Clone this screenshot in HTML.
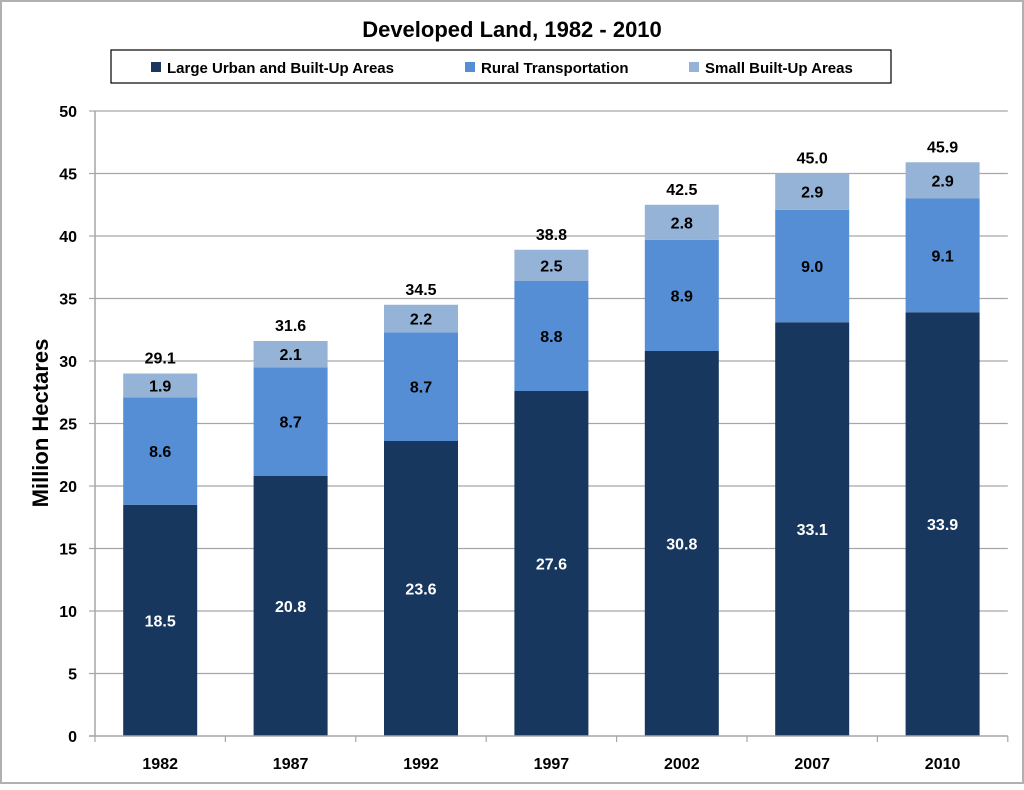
<!DOCTYPE html>
<html><head><meta charset="utf-8"><style>
html,body{margin:0;padding:0;background:#fff}
body{width:1024px;height:785px;overflow:hidden;font-family:"Liberation Sans",sans-serif}
svg text{font-family:"Liberation Sans",sans-serif;font-weight:bold}
</style></head><body>
<svg id="chart" width="1024" height="785" xmlns="http://www.w3.org/2000/svg">
<rect x="1" y="1" width="1022" height="782" fill="#fff" stroke="#b0b0b0" stroke-width="2"/>
<text x="512" y="37" text-anchor="middle" font-size="22" fill="#000">Developed Land, 1982 - 2010</text>
<g>
<rect x="111" y="50" width="780" height="33" fill="#fff" stroke="#000" stroke-width="1.2"/>
<g><rect x="151" y="62" width="10" height="10" fill="#17375e"/><text x="167" y="73" font-size="15">Large Urban and Built-Up Areas</text></g>
<g><rect x="465" y="62" width="10" height="10" fill="#558ed5"/><text x="481" y="73" font-size="15">Rural Transportation</text></g>
<g><rect x="689" y="62" width="10" height="10" fill="#95b3d7"/><text x="705" y="73" font-size="15">Small  Built-Up Areas</text></g>
</g>
<text transform="translate(48,423) rotate(-90)" text-anchor="middle" font-size="22">Million Hectares</text>
<g id="grid"></g><g id="bars"></g><g id="axes"></g>
</svg>
<script>
const categories=["1982","1987","1992","1997","2002","2007","2010"];
const largeUrban=[18.5,20.8,23.6,27.6,30.8,33.1,33.9];
const ruralTransport=[8.6,8.7,8.7,8.8,8.9,9.0,9.1];
const smallBuiltUp=[1.9,2.1,2.2,2.5,2.8,2.9,2.9];
const totals=["29.1","31.6","34.5","38.8","42.5","45.0","45.9"];
const yTicks=[0,5,10,15,20,25,30,35,40,45,50];
const NS="http://www.w3.org/2000/svg";
const x0=95,band=130.4,y0=736,ppu=12.5,bw=74;
const y=v=>y0-v*ppu;
const xc=i=>x0+band*(i+0.5);
function mk(tag,attrs,parent){const e=document.createElementNS(NS,tag);for(const k in attrs)e.setAttribute(k,attrs[k]);parent.appendChild(e);return e;}
const grid=document.getElementById('grid'),bars=document.getElementById('bars'),axes=document.getElementById('axes');
const xEnd=x0+band*categories.length;
yTicks.forEach(t=>{
 if(t>0){const g=mk('line',{x1:x0,x2:xEnd,y1:y(t),y2:y(t),stroke:'#a6a6a6','stroke-width':1.2},grid);
 
 }
 const tk=mk('line',{x1:x0-6,x2:x0,y1:y(t),y2:y(t),stroke:'#a6a6a6','stroke-width':1.2},axes);
 
 
 const l=mk('text',{x:77,y:y(t)+6,'text-anchor':'end','font-size':16},axes);l.textContent=t;
 
 
});
const ax=mk('line',{x1:x0,x2:x0,y1:y(50),y2:y0,stroke:'#a6a6a6','stroke-width':1.5},axes);


const bx=mk('line',{x1:x0-6,x2:xEnd,y1:y0,y2:y0,stroke:'#a6a6a6','stroke-width':1.5},axes);


for(let i=0;i<=categories.length;i++){const t=mk('line',{x1:x0+band*i,x2:x0+band*i,y1:y0,y2:y0+6,stroke:'#a6a6a6','stroke-width':1.2},axes);
 
 }
const series=[[largeUrban,'#17375e','#fff','large-urban'],[ruralTransport,'#558ed5','#000','rural-transportation'],[smallBuiltUp,'#95b3d7','#000','small-built-up']];
categories.forEach((c,i)=>{
 let base=0;
 series.forEach(([vals,col,tc,nm])=>{
  const v=vals[i];
  const r=mk('rect',{x:xc(i)-bw/2,y:y(base+v),width:bw,height:v*ppu,fill:col},bars);
  
  
  const t=mk('text',{x:xc(i),y:y(base+v/2)+6,'text-anchor':'middle','font-size':16,fill:tc},bars);
  t.textContent=v.toFixed(1);
  
  
  base+=v;
 });
 const tt=mk('text',{x:xc(i),y:y(base)-10,'text-anchor':'middle','font-size':16},bars);
 tt.textContent=totals[i];
 
 
 const xl=mk('text',{x:xc(i),y:769,'text-anchor':'middle','font-size':16},axes);
 xl.textContent=c;
 
 
});
</script>
</body></html>
